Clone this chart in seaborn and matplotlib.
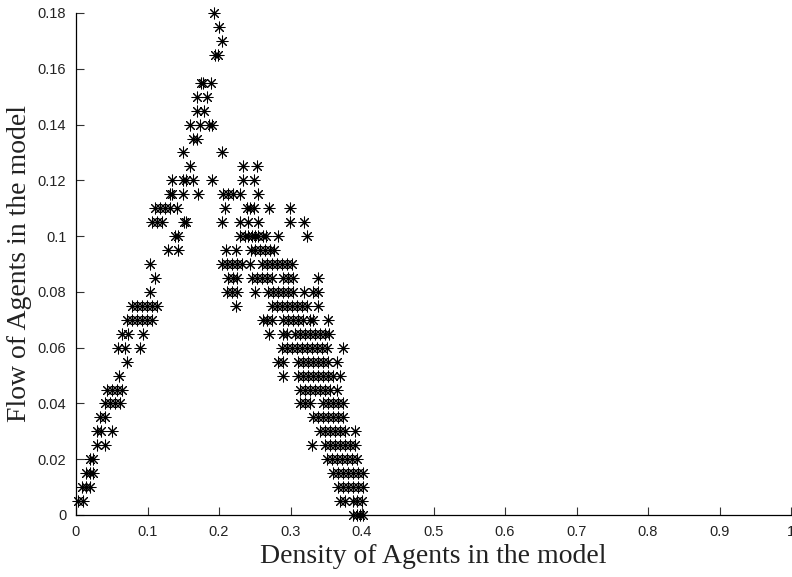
import matplotlib
matplotlib.use("Agg")
import matplotlib.pyplot as plt
import seaborn as sns
import pandas as pd

# Flow levels (y) and the densities (x) of the points observed at each level
flow_levels = [0.180, 0.175, 0.170, 0.165, 0.155, 0.150, 0.145, 0.140, 0.135,
               0.130, 0.125, 0.120, 0.115, 0.110, 0.105, 0.100, 0.095, 0.090,
               0.085, 0.080, 0.075, 0.070, 0.065, 0.060, 0.055, 0.050, 0.045,
               0.040, 0.035, 0.030, 0.025, 0.020, 0.015, 0.010, 0.005, 0.000]

density_rows = [
    [0.193],
    [0.200],
    [0.204],
    [0.194, 0.199],
    [0.175, 0.178, 0.189],
    [0.169, 0.183],
    [0.169, 0.179],
    [0.159, 0.173, 0.186, 0.190],
    [0.164, 0.169],
    [0.150, 0.204],
    [0.159, 0.234, 0.253],
    [0.134, 0.150, 0.154, 0.164, 0.190, 0.234, 0.249],
    [0.131, 0.134, 0.150, 0.171, 0.206, 0.213, 0.220, 0.229, 0.254],
    [0.110, 0.117, 0.124, 0.131, 0.141, 0.208, 0.239, 0.243, 0.249, 0.270, 0.299],
    [0.106, 0.113, 0.120, 0.151, 0.154, 0.204, 0.229, 0.241, 0.254, 0.299, 0.319],
    [0.138, 0.143, 0.229, 0.236, 0.241, 0.246, 0.250, 0.255, 0.262, 0.266, 0.283, 0.323],
    [0.129, 0.143, 0.210, 0.224, 0.245, 0.250, 0.257, 0.264, 0.271, 0.277],
    [0.103, 0.204, 0.211, 0.218, 0.225, 0.232, 0.243, 0.260, 0.267, 0.274, 0.281,
     0.288, 0.295, 0.302],
    [0.110, 0.213, 0.220, 0.225, 0.246, 0.253, 0.260, 0.267, 0.274, 0.290, 0.297,
     0.303, 0.338],
    [0.103, 0.211, 0.218, 0.225, 0.250, 0.269, 0.276, 0.283, 0.290, 0.297, 0.304,
     0.319, 0.331, 0.338],
    [0.078, 0.085, 0.092, 0.099, 0.106, 0.113, 0.224, 0.274, 0.281, 0.288, 0.295,
     0.302, 0.309, 0.316, 0.323, 0.338],
    [0.071, 0.078, 0.085, 0.092, 0.099, 0.106, 0.262, 0.267, 0.274, 0.290, 0.297,
     0.303, 0.310, 0.317, 0.327, 0.331, 0.352],
    [0.064, 0.073, 0.094, 0.270, 0.290, 0.295, 0.306, 0.313, 0.320, 0.327, 0.334,
     0.341, 0.348, 0.354],
    [0.059, 0.069, 0.090, 0.288, 0.295, 0.302, 0.309, 0.316, 0.323, 0.330, 0.337,
     0.344, 0.351, 0.373],
    [0.071, 0.283, 0.290, 0.310, 0.317, 0.324, 0.331, 0.338, 0.345, 0.352, 0.365],
    [0.060, 0.290, 0.310, 0.317, 0.324, 0.331, 0.338, 0.345, 0.352, 0.359, 0.369],
    [0.043, 0.050, 0.057, 0.064, 0.313, 0.320, 0.327, 0.334, 0.341, 0.348, 0.355, 0.365],
    [0.041, 0.048, 0.055, 0.062, 0.313, 0.320, 0.327, 0.345, 0.352, 0.359, 0.366, 0.373],
    [0.034, 0.041, 0.331, 0.338, 0.345, 0.352, 0.359, 0.366, 0.373],
    [0.029, 0.035, 0.050, 0.341, 0.348, 0.355, 0.362, 0.369, 0.376, 0.390],
    [0.029, 0.041, 0.330, 0.348, 0.355, 0.362, 0.369, 0.376, 0.383, 0.390],
    [0.020, 0.024, 0.351, 0.358, 0.365, 0.372, 0.379, 0.386, 0.393],
    [0.014, 0.020, 0.024, 0.359, 0.366, 0.373, 0.380, 0.387, 0.394, 0.401],
    [0.008, 0.014, 0.020, 0.366, 0.373, 0.380, 0.387, 0.394, 0.401],
    [0.003, 0.010, 0.369, 0.376, 0.387, 0.393, 0.400],
    [0.387, 0.393, 0.397, 0.401],
]

x_ticks = [0, 0.1, 0.2, 0.3, 0.4, 0.5, 0.6, 0.7, 0.8, 0.9, 1.0]
x_tick_labels = ["0", "0.1", "0.2", "0.3", "0.4", "0.5", "0.6", "0.7", "0.8", "0.9", "1"]
y_ticks = [0, 0.02, 0.04, 0.06, 0.08, 0.10, 0.12, 0.14, 0.16, 0.18]
y_tick_labels = ["0", "0.02", "0.04", "0.06", "0.08", "0.1", "0.12", "0.14", "0.16", "0.18"]

x_label = "Density of Agents in the model"
y_label = "Flow of Agents in the model"

rows = []
for f, xs in zip(flow_levels, density_rows):
    for d in xs:
        rows.append({"density": d, "flow": f})
df = pd.DataFrame(rows)

sns.set_theme(style="ticks")
plt.rcParams["font.family"] = ["Liberation Sans", "DejaVu Sans"]

fig = plt.figure(figsize=(7.92, 5.77), dpi=100)
ax = fig.add_axes([76 / 792, (577 - 515) / 577, (791 - 76) / 792, (515 - 13) / 577])
ax.set_clip_on(False)

sns.scatterplot(data=df, x="density", y="flow", ax=ax, marker=(8, 2, 0),
                color="black", s=62, linewidth=0.75, legend=False, clip_on=False)

ax.set_xlim(0, 1)
ax.set_ylim(0, 0.18)
ax.set_xticks(x_ticks)
ax.set_xticklabels(x_tick_labels)
ax.set_yticks(y_ticks)
ax.set_yticklabels(y_tick_labels)
ax.tick_params(direction="in", length=6, width=0.8, color="#333333",
               labelsize=10.5, labelcolor="#222222", pad=7)

for side in ["top", "right"]:
    ax.spines[side].set_visible(False)
for side in ["left", "bottom"]:
    ax.spines[side].set_color("black")
    ax.spines[side].set_linewidth(0.9)

ax.set_xlabel(x_label, family=["Liberation Serif", "DejaVu Serif"], fontsize=20,
              color="#222222", labelpad=4)
ax.set_ylabel(y_label, family=["Liberation Serif", "DejaVu Serif"], fontsize=20,
              color="#222222", labelpad=4)

fig.savefig("out.png", dpi=100)
